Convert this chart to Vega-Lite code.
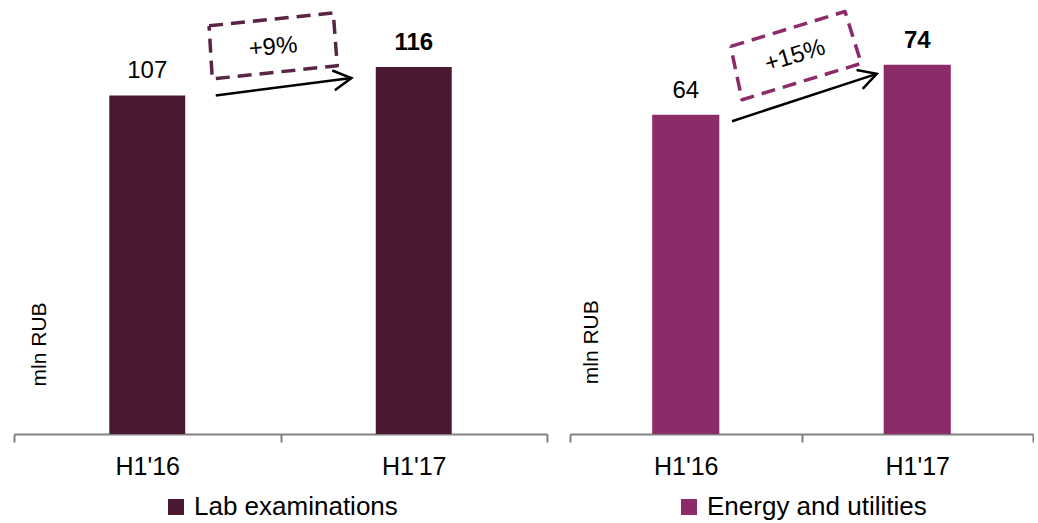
{
  "$schema": "https://vega.github.io/schema/vega-lite/v6.json",
  "padding": {"left": 13, "top": 9, "right": 0, "bottom": 0},
  "config": {
    "view": {"stroke": null},
    "font": "Liberation Sans",
    "concat": {"spacing": 21},
    "legend": {"layout": {"bottom": {"anchor": "middle"}}}
  },
  "datasets": {
    "bars": [
      {"panel": "Lab examinations", "period": "H1'16", "value": 107},
      {"panel": "Lab examinations", "period": "H1'17", "value": 116},
      {"panel": "Energy and utilities", "period": "H1'16", "value": 64},
      {"panel": "Energy and utilities", "period": "H1'17", "value": 74}
    ],
    "box": [
      {"panel": "Lab examinations", "order": 1, "x": 0.732, "y": 129.0},
      {"panel": "Lab examinations", "order": 2, "x": 1.198, "y": 133.1},
      {"panel": "Lab examinations", "order": 3, "x": 1.213, "y": 116.4},
      {"panel": "Lab examinations", "order": 4, "x": 0.744, "y": 112.2},
      {"panel": "Lab examinations", "order": 5, "x": 0.732, "y": 129.0},
      {"panel": "Energy and utilities", "order": 1, "x": 0.694, "y": 77.7},
      {"panel": "Energy and utilities", "order": 2, "x": 1.188, "y": 84.7},
      {"panel": "Energy and utilities", "order": 3, "x": 1.258, "y": 74.3},
      {"panel": "Energy and utilities", "order": 4, "x": 0.743, "y": 67.0},
      {"panel": "Energy and utilities", "order": 5, "x": 0.694, "y": 77.7}
    ],
    "arrows": [
      {"panel": "Lab examinations", "x": 0.757, "y": 107, "x2": 1.266, "y2": 112.5, "label": "+9%", "lx": 0.972, "ly": 122.2},
      {"panel": "Energy and utilities", "x": 0.700, "y": 62.7, "x2": 1.325, "y2": 72.2, "label": "+15%", "lx": 0.972, "ly": 75.8}
    ],
    "notes": [
      {"panel": "Lab examinations", "label": "mln RUB", "x": 0.119, "y": 28.3},
      {"panel": "Energy and utilities", "label": "mln RUB", "x": 0.122, "y": 18.4}
    ]
  },
  "resolve": {
    "scale": {"x": "independent", "y": "independent", "color": "independent"},
    "legend": {"color": "independent"}
  },
  "hconcat": [
    {
      "width": 533,
      "height": 424,
      "resolve": {"scale": {"x": "independent"}},
      "layer": [
        {
          "data": {"name": "bars"},
          "transform": [{"filter": {"field": "panel", "equal": "Lab examinations"}}],
          "mark": {"type": "bar", "width": {"band": 0.285}},
          "encoding": {
            "x": {
              "field": "period", "type": "nominal",
              "scale": {"type": "band", "paddingInner": 0, "paddingOuter": 0},
              "axis": {
                "title": null, "tickBand": "extent", "labelAngle": 0,
                "domainColor": "#808080", "domainWidth": 2,
                "tickColor": "#808080", "tickWidth": 2, "tickSize": 8,
                "labelFontSize": 25, "labelColor": "#000000", "labelPadding": 12
              }
            },
            "y": {"field": "value", "type": "quantitative", "scale": {"domain": [0, 134], "nice": false}, "axis": null},
            "color": {
              "field": "panel", "type": "nominal",
              "scale": {"range": ["#4a1833"]},
              "legend": {
                "title": null, "orient": "bottom", "direction": "horizontal",
                "symbolType": "square", "symbolSize": 256, "symbolStrokeWidth": 0,
                "labelFontSize": 26, "labelColor": "#000000", "labelOffset": 5,
                "labelLimit": 400, "offset": 15
              }
            }
          }
        },
        {
          "data": {"name": "bars"},
          "transform": [{"filter": {"field": "panel", "equal": "Lab examinations"}}],
          "mark": {"type": "text", "dy": -17, "baseline": "alphabetic", "fontSize": 24, "color": "#000000"},
          "encoding": {
            "x": {"field": "period", "type": "nominal", "scale": {"type": "band", "paddingInner": 0, "paddingOuter": 0}, "axis": null},
            "y": {"field": "value", "type": "quantitative", "scale": {"domain": [0, 134], "nice": false}, "axis": null},
            "text": {"condition": {"test": "datum.period === \"H1'16\"", "field": "value", "type": "quantitative"}, "value": ""}
          }
        },
        {
          "data": {"name": "bars"},
          "transform": [{"filter": {"field": "panel", "equal": "Lab examinations"}}],
          "mark": {"type": "text", "dy": -17, "baseline": "alphabetic", "fontSize": 24, "fontWeight": "bold", "color": "#000000"},
          "encoding": {
            "x": {"field": "period", "type": "nominal", "scale": {"type": "band", "paddingInner": 0, "paddingOuter": 0}, "axis": null},
            "y": {"field": "value", "type": "quantitative", "scale": {"domain": [0, 134], "nice": false}, "axis": null},
            "text": {"condition": {"test": "datum.period === \"H1'17\"", "field": "value", "type": "quantitative"}, "value": ""}
          }
        },
        {
          "data": {"name": "box"},
          "transform": [{"filter": {"field": "panel", "equal": "Lab examinations"}}],
          "mark": {"type": "line", "color": "#5a2447", "strokeWidth": 3.5, "strokeDash": [14, 8], "strokeJoin": "round"},
          "encoding": {
            "x": {"field": "x", "type": "quantitative", "scale": {"domain": [0, 2]}, "axis": null},
            "y": {"field": "y", "type": "quantitative", "scale": {"domain": [0, 134], "nice": false}, "axis": null},
            "order": {"field": "order", "type": "quantitative"}
          }
        },
        {
          "data": {"name": "arrows"},
          "transform": [{"filter": {"field": "panel", "equal": "Lab examinations"}}],
          "mark": {"type": "rule", "color": "#000000", "strokeWidth": 2.5},
          "encoding": {
            "x": {"field": "x", "type": "quantitative", "scale": {"domain": [0, 2]}, "axis": null},
            "y": {"field": "y", "type": "quantitative", "scale": {"domain": [0, 134], "nice": false}, "axis": null},
            "x2": {"field": "x2"},
            "y2": {"field": "y2"}
          }
        },
        {
          "data": {"name": "arrows"},
          "transform": [{"filter": {"field": "panel", "equal": "Lab examinations"}}],
          "mark": {"type": "point", "shape": "M -1 -0.55 L 0 0 L -1 0.55", "filled": false, "stroke": "#000000", "strokeWidth": 2.5, "size": 1296, "angle": -7.4, "opacity": 1},
          "encoding": {
            "x": {"field": "x2", "type": "quantitative", "scale": {"domain": [0, 2]}, "axis": null},
            "y": {"field": "y2", "type": "quantitative", "scale": {"domain": [0, 134], "nice": false}, "axis": null}
          }
        },
        {
          "data": {"name": "arrows"},
          "transform": [{"filter": {"field": "panel", "equal": "Lab examinations"}}],
          "mark": {"type": "text", "fontSize": 24, "angle": -5, "align": "center", "baseline": "middle", "color": "#000000"},
          "encoding": {
            "x": {"field": "lx", "type": "quantitative", "scale": {"domain": [0, 2]}, "axis": null},
            "y": {"field": "ly", "type": "quantitative", "scale": {"domain": [0, 134], "nice": false}, "axis": null},
            "text": {"field": "label", "type": "nominal"}
          }
        },
        {
          "data": {"name": "notes"},
          "transform": [{"filter": {"field": "panel", "equal": "Lab examinations"}}],
          "mark": {"type": "text", "fontSize": 21, "angle": -90, "align": "center", "baseline": "alphabetic", "color": "#000000"},
          "encoding": {
            "x": {"field": "x", "type": "quantitative", "scale": {"domain": [0, 2]}, "axis": null},
            "y": {"field": "y", "type": "quantitative", "scale": {"domain": [0, 134], "nice": false}, "axis": null},
            "text": {"field": "label", "type": "nominal"}
          }
        }
      ]
    },
    {
      "width": 463,
      "height": 424,
      "resolve": {"scale": {"x": "independent"}},
      "layer": [
        {
          "data": {"name": "bars"},
          "transform": [{"filter": {"field": "panel", "equal": "Energy and utilities"}}],
          "mark": {"type": "bar", "width": {"band": 0.29}},
          "encoding": {
            "x": {
              "field": "period", "type": "nominal",
              "scale": {"type": "band", "paddingInner": 0, "paddingOuter": 0},
              "axis": {
                "title": null, "tickBand": "extent", "labelAngle": 0,
                "domainColor": "#808080", "domainWidth": 2,
                "tickColor": "#808080", "tickWidth": 2, "tickSize": 8,
                "labelFontSize": 25, "labelColor": "#000000", "labelPadding": 12
              }
            },
            "y": {"field": "value", "type": "quantitative", "scale": {"domain": [0, 85], "nice": false}, "axis": null},
            "color": {
              "field": "panel", "type": "nominal",
              "scale": {"range": ["#8b2c68"]},
              "legend": {
                "title": null, "orient": "bottom", "direction": "horizontal",
                "symbolType": "square", "symbolSize": 256, "symbolStrokeWidth": 0,
                "labelFontSize": 26, "labelColor": "#000000", "labelOffset": 5,
                "labelLimit": 400, "offset": 15
              }
            }
          }
        },
        {
          "data": {"name": "bars"},
          "transform": [{"filter": {"field": "panel", "equal": "Energy and utilities"}}],
          "mark": {"type": "text", "dy": -17, "baseline": "alphabetic", "fontSize": 24, "color": "#000000"},
          "encoding": {
            "x": {"field": "period", "type": "nominal", "scale": {"type": "band", "paddingInner": 0, "paddingOuter": 0}, "axis": null},
            "y": {"field": "value", "type": "quantitative", "scale": {"domain": [0, 85], "nice": false}, "axis": null},
            "text": {"condition": {"test": "datum.period === \"H1'16\"", "field": "value", "type": "quantitative"}, "value": ""}
          }
        },
        {
          "data": {"name": "bars"},
          "transform": [{"filter": {"field": "panel", "equal": "Energy and utilities"}}],
          "mark": {"type": "text", "dy": -17, "baseline": "alphabetic", "fontSize": 24, "fontWeight": "bold", "color": "#000000"},
          "encoding": {
            "x": {"field": "period", "type": "nominal", "scale": {"type": "band", "paddingInner": 0, "paddingOuter": 0}, "axis": null},
            "y": {"field": "value", "type": "quantitative", "scale": {"domain": [0, 85], "nice": false}, "axis": null},
            "text": {"condition": {"test": "datum.period === \"H1'17\"", "field": "value", "type": "quantitative"}, "value": ""}
          }
        },
        {
          "data": {"name": "box"},
          "transform": [{"filter": {"field": "panel", "equal": "Energy and utilities"}}],
          "mark": {"type": "line", "color": "#8b2c68", "strokeWidth": 3.5, "strokeDash": [14, 8], "strokeJoin": "round"},
          "encoding": {
            "x": {"field": "x", "type": "quantitative", "scale": {"domain": [0, 2]}, "axis": null},
            "y": {"field": "y", "type": "quantitative", "scale": {"domain": [0, 85], "nice": false}, "axis": null},
            "order": {"field": "order", "type": "quantitative"}
          }
        },
        {
          "data": {"name": "arrows"},
          "transform": [{"filter": {"field": "panel", "equal": "Energy and utilities"}}],
          "mark": {"type": "rule", "color": "#000000", "strokeWidth": 2.5},
          "encoding": {
            "x": {"field": "x", "type": "quantitative", "scale": {"domain": [0, 2]}, "axis": null},
            "y": {"field": "y", "type": "quantitative", "scale": {"domain": [0, 85], "nice": false}, "axis": null},
            "x2": {"field": "x2"},
            "y2": {"field": "y2"}
          }
        },
        {
          "data": {"name": "arrows"},
          "transform": [{"filter": {"field": "panel", "equal": "Energy and utilities"}}],
          "mark": {"type": "point", "shape": "M -1 -0.55 L 0 0 L -1 0.55", "filled": false, "stroke": "#000000", "strokeWidth": 2.5, "size": 1296, "angle": -18, "opacity": 1},
          "encoding": {
            "x": {"field": "x2", "type": "quantitative", "scale": {"domain": [0, 2]}, "axis": null},
            "y": {"field": "y2", "type": "quantitative", "scale": {"domain": [0, 85], "nice": false}, "axis": null}
          }
        },
        {
          "data": {"name": "arrows"},
          "transform": [{"filter": {"field": "panel", "equal": "Energy and utilities"}}],
          "mark": {"type": "text", "fontSize": 24, "angle": -17, "align": "center", "baseline": "middle", "color": "#000000"},
          "encoding": {
            "x": {"field": "lx", "type": "quantitative", "scale": {"domain": [0, 2]}, "axis": null},
            "y": {"field": "ly", "type": "quantitative", "scale": {"domain": [0, 85], "nice": false}, "axis": null},
            "text": {"field": "label", "type": "nominal"}
          }
        },
        {
          "data": {"name": "notes"},
          "transform": [{"filter": {"field": "panel", "equal": "Energy and utilities"}}],
          "mark": {"type": "text", "fontSize": 21, "angle": -90, "align": "center", "baseline": "alphabetic", "color": "#000000"},
          "encoding": {
            "x": {"field": "x", "type": "quantitative", "scale": {"domain": [0, 2]}, "axis": null},
            "y": {"field": "y", "type": "quantitative", "scale": {"domain": [0, 85], "nice": false}, "axis": null},
            "text": {"field": "label", "type": "nominal"}
          }
        }
      ]
    }
  ]
}
